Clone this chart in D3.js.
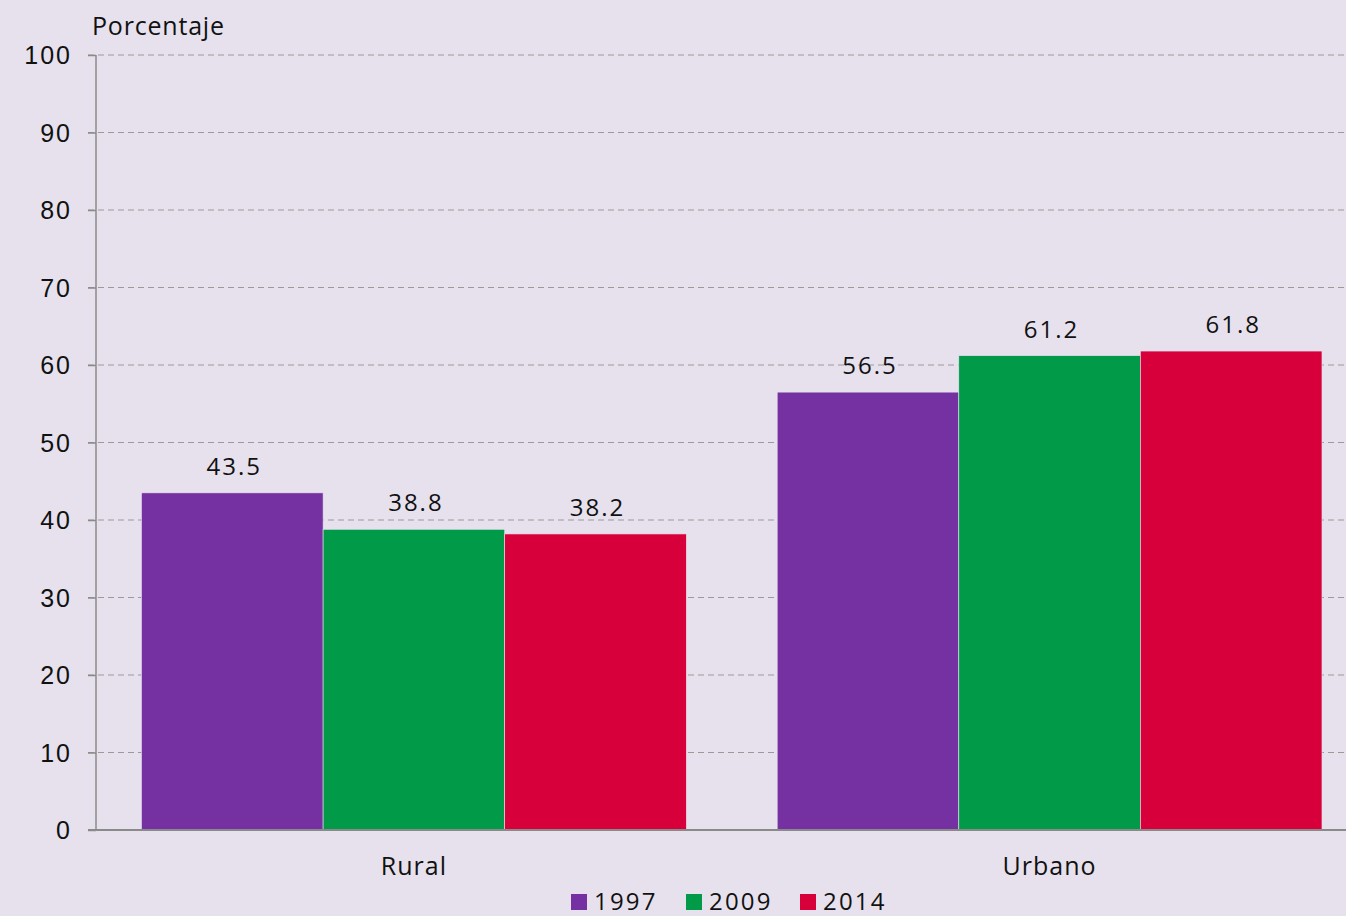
<!DOCTYPE html>
<html lang="es">
<head>
  <meta charset="UTF-8" />
  <title>Porcentaje Rural / Urbano</title>
  <script src="https://d3js.org/d3.v7.min.js"></script>
  <style>
    html, body { margin: 0; padding: 0; background: #e6e1ed; }
    svg { display: block; font-family: "Open Sans", "Noto Sans", sans-serif; }
    .grid line { stroke: #9a9a9a; stroke-width: 1px; stroke-dasharray: 6,4; }
    .tick text { fill: #111; }
  </style>
</head>
<body>
  <svg id="chart" width="1346" height="916"></svg>

  <script>
    const categories = ["Rural", "Urbano"];
    const years = ["1997", "2009", "2014"];
    const values1997 = [43.5, 56.5];
    const values2009 = [38.8, 61.2];
    const values2014 = [38.2, 61.8];
    const yTicks = [0, 10, 20, 30, 40, 50, 60, 70, 80, 90, 100];
    const colors = ["#7530a1", "#009a49", "#d8003a"];

    const series = [values1997, values2009, values2014];
    const rows = categories.map((c, i) => ({
      cat: c,
      vals: years.map((y, j) => ({ year: y, value: series[j][i], color: colors[j] }))
    }));

    const svg = d3.select("#chart");
    const mLeft = 96, mRight = 1346, mTop = 55, mBottom = 830;

    const x = d3.scaleBand().domain(categories)
      .range([mLeft, 1367.5]).paddingInner(0.143).paddingOuter(0.0716);
    const xi = d3.scaleBand().domain(years).range([0, x.bandwidth()]);
    const y = d3.scaleLinear().domain([0, 100]).range([mBottom, mTop]);

    // grid
    svg.append("g").attr("class", "grid")
      .selectAll("line").data(yTicks.filter(d => d > 0)).join("line")
      .attr("x1", mLeft - 8).attr("x2", mRight)
      .attr("y1", d => y(d)).attr("y2", d => y(d));

    // y axis
    const yAxis = svg.append("g").attr("transform", `translate(${mLeft},0)`)
      .call(d3.axisLeft(y).tickValues(yTicks).tickSize(8).tickPadding(16));
    yAxis.select(".domain").attr("stroke", "#8a8a8a").attr("stroke-width", 1.5)
      .attr("d", `M0,${mBottom}V${mTop}`);
    yAxis.selectAll(".tick line").attr("stroke", "#8a8a8a").attr("stroke-width", 1.5);
    yAxis.selectAll(".tick text").attr("font-size", 25).attr("letter-spacing", 2)
      .attr("dy", "0.35em");

    // bars
    const groups = svg.append("g").selectAll("g").data(rows).join("g")
      .attr("transform", d => `translate(${x(d.cat)},0)`);

    groups.selectAll("rect").data(d => d.vals).join("rect")
      .attr("x", d => xi(d.year))
      .attr("width", xi.bandwidth())
      .attr("y", d => y(d.value))
      .attr("height", d => mBottom - y(d.value))
      .attr("fill", d => d.color)
      .attr("stroke", "#e6e1ed").attr("stroke-width", 0.6);

    groups.selectAll("text").data(d => d.vals).join("text")
      .attr("x", d => xi(d.year) + xi.bandwidth() / 2 + 2)
      .attr("y", d => y(d.value) - 18)
      .attr("text-anchor", "middle")
      .attr("font-size", 24).attr("letter-spacing", 2).attr("fill", "#111")
      .text(d => d.value.toFixed(1));

    // bottom axis line
    svg.append("line")
      .attr("x1", mLeft - 8).attr("x2", mRight)
      .attr("y1", mBottom).attr("y2", mBottom)
      .attr("stroke", "#8a8a8a").attr("stroke-width", 2);

    // category labels
    svg.append("g").selectAll("text").data(categories).join("text")
      .attr("x", d => x(d) + x.bandwidth() / 2)
      .attr("y", 875)
      .attr("text-anchor", "middle")
      .attr("font-size", 25).attr("letter-spacing", 1).attr("fill", "#111")
      .text(d => d);

    // y title
    svg.append("text").attr("x", 92).attr("y", 35)
      .attr("font-size", 25).attr("letter-spacing", 0.8).attr("fill", "#111")
      .text("Porcentaje");

    // legend
    const legendX = [571, 686, 800];
    const legend = svg.append("g").selectAll("g").data(years).join("g")
      .attr("transform", (d, i) => `translate(${legendX[i]},894)`);
    legend.append("rect").attr("width", 16).attr("height", 16)
      .attr("fill", (d, i) => colors[i]);
    legend.append("text").attr("x", 23).attr("y", 16)
      .attr("font-size", 24).attr("letter-spacing", 2.2).attr("fill", "#111")
      .text(d => d);
  </script>
</body>
</html>
